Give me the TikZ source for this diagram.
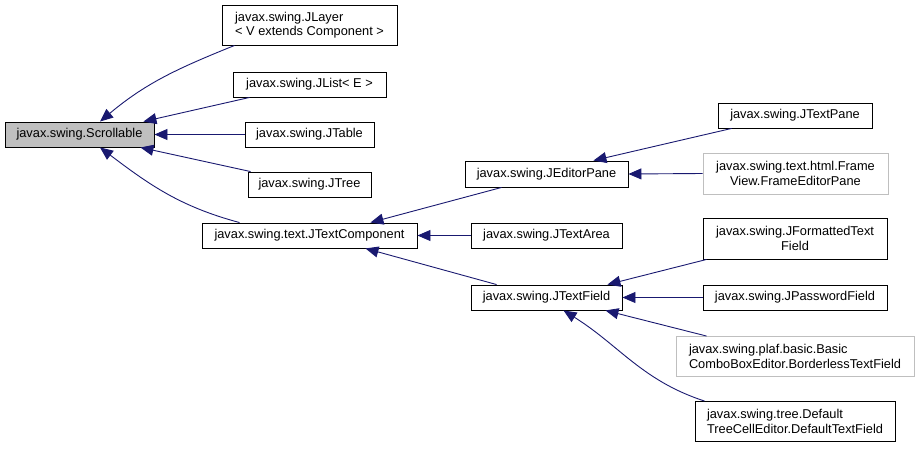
\documentclass[tikz,border=0pt]{standalone}
\usepackage{fontspec}
\setmainfont{Liberation Sans}
\usetikzlibrary{arrows.meta}
\definecolor{edgeblue}{HTML}{191970}
\definecolor{boxgray}{HTML}{BFBFBF}

\begin{document}
\begin{tikzpicture}[x=1pt,y=1pt,
		cls/.style={draw=black,line width=0.9pt,fill=white,inner sep=2pt,
			minimum height=25pt,font=\fontsize{12.8}{14.2}\selectfont},
		ext/.style={cls,draw=boxgray},
		inh/.style={draw=edgeblue,line width=0.9pt,
			{Triangle[length=13pt,width=11pt]}-}]
	\useasboundingbox (0,0) rectangle (920,448);
	
	% Base class
	\node[cls,fill=boxgray,minimum width=149pt] (scroll) at (79.5,313.5) {javax.swing.Scrollable};
	
	% First column
	\node[cls,minimum width=175pt,minimum height=40pt,align=left] (jlayer) at (309.5,423) {javax.swing.JLayer\\< V extends Component >};
	\node[cls,minimum width=153pt] (jlist) at (309.5,363.5) {javax.swing.JList< E >};
	\node[cls,minimum width=129pt] (jtable) at (309.5,313.5) {javax.swing.JTable};
	\node[cls,minimum width=123pt] (jtree) at (309.5,263.5) {javax.swing.JTree};
	\node[cls,minimum width=215pt] (jtextcomp) at (309.5,212.5) {javax.swing.text.JTextComponent};
	
	% Second column
	\node[cls,minimum width=163pt,minimum height=26pt] (jeditor) at (546.5,274) {javax.swing.JEditorPane};
	\node[cls,minimum width=151pt] (jtextarea) at (546.5,212.5) {javax.swing.JTextArea};
	\node[cls,minimum width=151pt] (jtextfield) at (546.5,150.5) {javax.swing.JTextField};
	
	% Third column
	\node[cls,minimum width=154pt] (jtextpane) at (795,332.5) {javax.swing.JTextPane};
	\node[ext,minimum width=185pt,minimum height=41pt,align=center] (frameview) at (795.5,274.5) {javax.swing.text.html.Frame\\View.FrameEditorPane};
	\node[cls,minimum width=184pt,minimum height=41pt,align=center] (jformatted) at (795,209.5) {javax.swing.JFormattedText\\Field};
	\node[cls,minimum width=184pt] (jpassword) at (795,150.5) {javax.swing.JPasswordField};
	\node[ext,minimum width=238pt,minimum height=40pt,align=left] (basiccombo) at (795,91.5) {javax.swing.plaf.basic.Basic\\ComboBoxEditor.BorderlessTextField};
	\node[cls,minimum width=200pt,minimum height=40pt,align=left] (defaulttext) at (795,26.5) {javax.swing.tree.Default\\TreeCellEditor.DefaultTextField};
	
	% Straight inheritance arrows
	\foreach \p/\c in {scroll/jtable,jtextcomp/jtextarea,jeditor/frameview,jtextfield/jpassword}
	\draw[inh] (\p.east) -- (\c.west);
	
	\draw[inh] ([xshift=-11pt]scroll.north east) -- ([xshift=17pt]jlist.south west);
	\draw[inh] ([xshift=-14pt]scroll.south east) -- ([xshift=3pt]jtree.north west);
	\draw[inh] ([xshift=-47pt]jtextcomp.north east) -- ([xshift=37pt]jeditor.south west);
	\draw[inh] ([xshift=-52pt]jtextcomp.south east) -- ([xshift=26pt]jtextfield.north west);
	\draw[inh] ([xshift=-35pt]jeditor.north east) -- ([xshift=14pt]jtextpane.south west);
	\draw[inh] ([xshift=-15pt]jtextfield.north east) -- ([xshift=4pt]jformatted.south west);
	\draw[inh] ([xshift=-17pt]jtextfield.south east) -- ([xshift=31pt]basiccombo.north west);
	
	% Curved inheritance arrows
	\draw[inh] ([xshift=20.5pt]scroll.north) to[out=40,in=202] ([xshift=13pt]jlayer.south west);
	\draw[inh] ([xshift=20.5pt]scroll.south) to[out=-37,in=165] ([xshift=38pt]jtextcomp.north west);
	\draw[inh] ([xshift=17pt]jtextfield.south) to[out=-32,in=162] ([xshift=10pt]defaulttext.north west);
\end{tikzpicture}
\end{document}
